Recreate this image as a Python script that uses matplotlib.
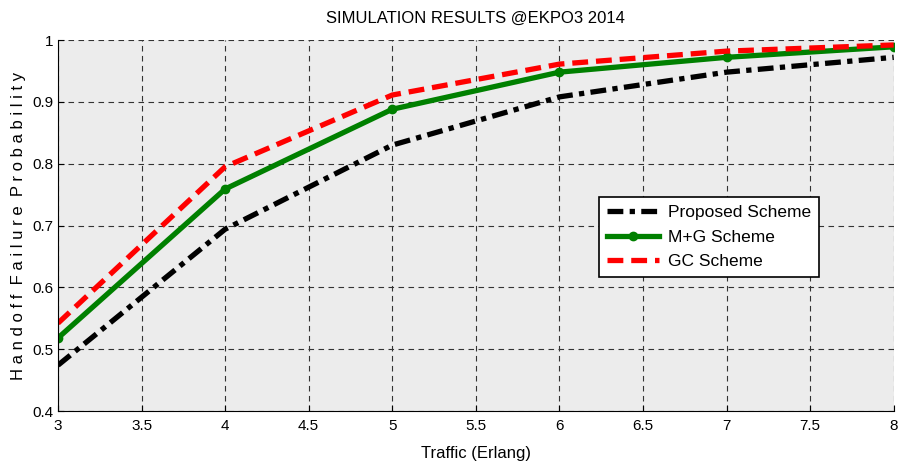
import matplotlib
matplotlib.use("Agg")
import matplotlib.pyplot as plt
from matplotlib import font_manager

traffic = [3, 4, 5, 6, 7, 8]
proposed = [0.474, 0.694, 0.830, 0.908, 0.948, 0.972]
mg = [0.518, 0.759, 0.888, 0.948, 0.972, 0.989]
gc = [0.542, 0.795, 0.911, 0.961, 0.982, 0.992]

xticks = [3, 3.5, 4, 4.5, 5, 5.5, 6, 6.5, 7, 7.5, 8]
yticks = [0.4, 0.5, 0.6, 0.7, 0.8, 0.9, 1]

names = {f.name for f in font_manager.fontManager.ttflist}
fam = "Liberation Sans Narrow" if "Liberation Sans Narrow" in names else "Liberation Sans"
plt.rcParams['font.family'] = [fam, 'DejaVu Sans']

fig = plt.figure(figsize=(9, 4.63), dpi=100)
ax = fig.add_axes([0.0644, 0.1123, 0.9286, 0.8013])
ax.set_facecolor("#ececec")

ax.plot(traffic, proposed, color="black", lw=3.8, linestyle=(0, (3, 1.2, 1, 1.2)),
        label="Proposed Scheme")
ax.plot(traffic, mg, color="green", lw=3.8, marker="o", markersize=6,
        label="M+G Scheme")
ax.plot(traffic, gc, color="red", lw=3.8, linestyle=(0, (3, 1.5)),
        label="GC Scheme")

ax.set_xlim(3, 8)
ax.set_ylim(0.4, 1)
ax.set_xticks(xticks)
ax.set_xticklabels([f"{v:g}" for v in xticks])
ax.set_yticks(yticks)
ax.set_yticklabels([f"{v:g}" for v in yticks])
ax.tick_params(direction="in", labelsize=11, length=4)
ax.tick_params(axis="x", pad=6)
ax.grid(True, color="#333333", linestyle=(0, (5, 4)), lw=0.8)
for s in ["top", "right"]:
    ax.spines[s].set_visible(False)

ax.set_title("SIMULATION RESULTS @EKPO3 2014", fontsize=12, pad=12)
ax.set_xlabel("Traffic (Erlang)", fontsize=12, labelpad=9)
ax.set_ylabel("H a n d o f f  F a i l u r e  P r o b a b i l i t y", fontsize=12)

leg = ax.legend(loc="upper left", bbox_to_anchor=(0.637, 0.6), fontsize=12.5,
                fancybox=False, framealpha=1, edgecolor="black",
                handlelength=3.0, borderpad=0.45, labelspacing=0.55,
                handletextpad=0.5)
leg.get_frame().set_linewidth(1.2)

fig.savefig("out.png", dpi=100)
